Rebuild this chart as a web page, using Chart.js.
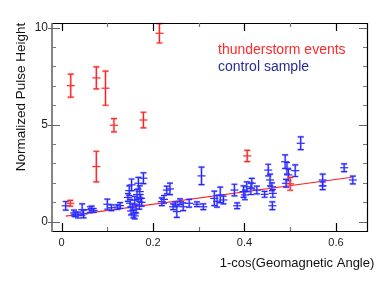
<!DOCTYPE html>
<html>
<head>
<meta charset="utf-8">
<script src="https://cdn.jsdelivr.net/npm/chart.js@4"></script>
<style>
html,body{margin:0;padding:0;background:#fff;}
#wrap{width:382px;height:297px;}
</style>
</head>
<body>
<div id="wrap"><canvas id="c" width="382" height="297"></canvas></div>
<script>
// ---- data ----
const redX   = [0.020, 0.076, 0.096, 0.1145, 0.179, 0.214, 0.076, 0.019, 0.406, 0.500];
const redY   = [7.01,  7.41,  6.88,  4.97,   5.24,  9.71,  2.84,  0.95,  3.39,  1.95];
const redErr = [0.59,  0.57,  0.88,  0.34,   0.40,  0.50,  0.79,  0.15,  0.29,  0.33];

const blueX = [0.009,0.027,0.030,0.036,0.045,0.048,0.062,0.066,0.070,0.100,
               0.109,0.122,0.128,0.145,0.148,0.150,0.152,0.153,0.155,0.157,
               0.160,0.160,0.163,0.165,0.168,0.170,0.171,0.173,0.175,0.179,
               0.219,0.224,0.230,0.237,0.244,0.249,0.252,0.259,0.266,0.279,
               0.296,0.306,0.310,0.334,0.340,0.347,0.354,0.378,0.384,0.398,
               0.401,0.405,0.414,0.416,0.427,0.444,0.452,0.456,0.460,0.462,
               0.461,0.489,0.493,0.496,0.491,0.511,0.523,0.571,0.571,0.618,0.637];
const blueY = [0.82,0.45,0.38,0.34,0.62,0.40,0.62,0.68,0.58,0.90,
               0.72,0.75,0.83,1.25,1.60,0.95,0.55,1.90,0.75,0.40,
               1.10,0.30,0.65,1.40,1.98,0.85,1.55,1.20,1.00,2.24,
               1.03,1.15,1.63,1.69,0.77,0.90,0.52,1.03,0.77,0.95,
               0.90,2.36,0.77,1.20,1.05,1.38,1.12,1.63,0.82,1.55,
               1.38,1.80,1.70,1.98,1.63,1.41,2.66,2.15,1.80,1.46,
               0.82,3.09,2.75,2.41,1.98,2.63,4.04,2.15,1.85,2.78,2.15];
const blueErr = [0.22,0.15,0.12,0.15,0.30,0.20,0.15,0.12,0.10,0.26,
                 0.15,0.12,0.15,0.20,0.25,0.20,0.20,0.30,0.15,0.20,
                 0.20,0.15,0.20,0.25,0.30,0.20,0.30,0.20,0.20,0.28,
                 0.20,0.20,0.20,0.30,0.15,0.12,0.30,0.15,0.20,0.20,
                 0.12,0.45,0.15,0.37,0.30,0.40,0.20,0.30,0.15,0.30,
                 0.25,0.25,0.30,0.25,0.20,0.15,0.30,0.30,0.20,0.20,
                 0.20,0.35,0.30,0.30,0.20,0.30,0.33,0.30,0.20,0.20,0.20];

const fitX = [0.009, 0.635];
const fitY = [0.29, 2.29];

const xTickLabels = [0, 0.2, 0.4, 0.6];
const xMinorTicks = [0.1, 0.3, 0.5];
const yTickLabels = [0, 5, 10];
const yMinorTicks = [1, 2, 3, 4, 6, 7, 8, 9];

const legendLabels = ['thunderstorm events', 'control sample'];
const xTitle = '1-cos(Geomagnetic Angle)';
const yTitle = 'Normalized Pulse Height';

// ---- styles ----
const RED = '#ff2222';
const BLUE = '#2525ff';
const FONT = '"Liberation Sans", Arial, sans-serif';

const toPts = (xs, ys) => xs.map((x, i) => ({x: x, y: ys[i]}));

const decorPlugin = {
  id: 'decor',
  afterDatasetsDraw(chart) {
    const ctx = chart.ctx, xs = chart.scales.x, ys = chart.scales.y;
    const drawBars = (X, Y, E, color, halo) => {
      for (let i = 0; i < X.length; i++) {
        const px = xs.getPixelForValue(X[i]);
        const p1 = ys.getPixelForValue(Y[i] - E[i]);
        const p2 = ys.getPixelForValue(Y[i] + E[i]);
        const passes = [[halo, 2.6], [color, 1.2]];
        for (const [c, w] of passes) {
          ctx.save();
          ctx.strokeStyle = c; ctx.lineWidth = w;
          ctx.beginPath();
          ctx.moveTo(px, p1); ctx.lineTo(px, p2);
          ctx.moveTo(px - 3, p1); ctx.lineTo(px + 3, p1);
          ctx.moveTo(px - 3, p2); ctx.lineTo(px + 3, p2);
          ctx.stroke();
          ctx.restore();
        }
      }
    };
    drawBars(blueX, blueY, blueErr, BLUE, 'rgba(110,110,255,0.35)');
    drawBars(redX, redY, redErr, RED, 'rgba(255,110,110,0.35)');
  },
  afterDraw(chart) {
    const ctx = chart.ctx, xs = chart.scales.x, ys = chart.scales.y;
    const a = chart.chartArea;
    ctx.save();
    // frame
    ctx.lineWidth = 1.2;
    ctx.strokeStyle = '#000';
    ctx.beginPath();
    ctx.moveTo(a.left, a.top + 0.5); ctx.lineTo(a.right + 0.5, a.top + 0.5);
    ctx.lineTo(a.right + 0.5, a.bottom + 0.5); ctx.lineTo(a.left, a.bottom + 0.5);
    ctx.stroke();
    ctx.strokeStyle = '#666'; ctx.lineWidth = 1.6;
    ctx.beginPath();
    ctx.moveTo(a.left, a.top); ctx.lineTo(a.left, a.bottom + 1);
    ctx.stroke();
    // x ticks (bottom & top)
    ctx.lineWidth = 1.2;
    for (const v of xTickLabels) {
      const p = Math.round(xs.getPixelForValue(v)) + 0.5;
      ctx.strokeStyle = '#000';
      ctx.beginPath();
      ctx.moveTo(p, a.bottom); ctx.lineTo(p, a.bottom - 8);
      ctx.moveTo(p, a.top); ctx.lineTo(p, a.top + 8);
      ctx.stroke();
    }
    for (const v of xMinorTicks) {
      const p = Math.round(xs.getPixelForValue(v)) + 0.5;
      ctx.strokeStyle = '#777';
      ctx.beginPath();
      ctx.moveTo(p, a.bottom); ctx.lineTo(p, a.bottom - 4);
      ctx.moveTo(p, a.top); ctx.lineTo(p, a.top + 4);
      ctx.stroke();
    }
    // y ticks (left & right)
    for (const v of yTickLabels) {
      const p = Math.round(ys.getPixelForValue(v)) + 0.5;
      ctx.strokeStyle = '#666';
      ctx.beginPath();
      ctx.moveTo(a.left - 4, p); ctx.lineTo(a.left + 8, p);
      ctx.moveTo(a.right, p); ctx.lineTo(a.right - 8, p);
      ctx.stroke();
    }
    for (const v of yMinorTicks) {
      const p = Math.round(ys.getPixelForValue(v)) + 0.5;
      ctx.strokeStyle = '#777';
      ctx.beginPath();
      ctx.moveTo(a.left, p); ctx.lineTo(a.left + 4, p);
      ctx.moveTo(a.right, p); ctx.lineTo(a.right - 4, p);
      ctx.stroke();
    }
    // legend text
    ctx.font = '14px ' + FONT;
    ctx.textBaseline = 'alphabetic';
    ctx.textAlign = 'left';
    ctx.fillStyle = '#ff2a2a';
    ctx.fillText(legendLabels[0], 218, 54);
    ctx.fillStyle = '#2a2a9a';
    ctx.fillText(legendLabels[1], 218, 71);
    // axis titles
    ctx.fillStyle = '#111';
    ctx.font = '13px ' + FONT;
    ctx.textAlign = 'center';
    ctx.textBaseline = 'middle';
    ctx.fillText(xTitle, 297, 263);
    ctx.translate(21, 97);
    ctx.rotate(-Math.PI / 2);
    ctx.font = '13.5px ' + FONT;
    ctx.fillText(yTitle, 0, 0);
    ctx.restore();
  }
};

new Chart(document.getElementById('c'), {
  type: 'scatter',
  data: {
    datasets: [
      { type: 'line', data: toPts(fitX, fitY), borderColor: RED, borderWidth: 1.2,
        pointRadius: 0, fill: false, order: 3 },
      { data: toPts(blueX, blueY), pointStyle: 'line', pointRadius: 4,
        borderColor: BLUE, borderWidth: 1.2, backgroundColor: BLUE, order: 2 },
      { data: toPts(redX, redY), pointStyle: 'line', pointRadius: 4,
        borderColor: RED, borderWidth: 1.2, backgroundColor: RED, order: 1 }
    ]
  },
  options: {
    responsive: false,
    animation: false,
    events: [],
    layout: { padding: { left: 0, right: 15, top: 23, bottom: 0 } },
    plugins: { legend: { display: false }, tooltip: { enabled: false } },
    scales: {
      x: {
        type: 'linear', min: -0.021, max: 0.668,
        border: { display: false },
        grid: { display: false, drawTicks: false },
        afterBuildTicks: s => { s.ticks = xTickLabels.map(v => ({value: v})); },
        afterFit: s => { s.height = 66; },
        ticks: { padding: 5, color: '#222', font: { size: 11, family: FONT },
                 maxRotation: 0, autoSkip: false }
      },
      y: {
        type: 'linear', min: -0.48, max: 10.24,
        border: { display: false },
        grid: { display: false, drawTicks: false },
        afterBuildTicks: s => { s.ticks = yTickLabels.map(v => ({value: v})); },
        afterFit: s => { s.width = 52; },
        ticks: { padding: 4, color: '#222', font: { size: 12, family: FONT }, autoSkip: false }
      }
    }
  },
  plugins: [decorPlugin]
});
</script>
</body>
</html>
